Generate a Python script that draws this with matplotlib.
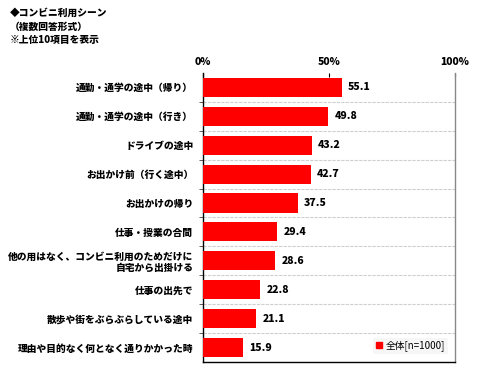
import matplotlib
matplotlib.use("Agg")
import matplotlib.pyplot as plt
from matplotlib.lines import Line2D

plt.rcParams['font.family'] = ['Noto Sans CJK JP', 'DejaVu Sans']

# data
labels = [
    "通勤・通学の途中（帰り）",
    "通勤・通学の途中（行き）",
    "ドライブの途中",
    "お出かけ前（行く途中）",
    "お出かけの帰り",
    "仕事・授業の合間",
    "他の用はなく、コンビニ利用のためだけに\n自宅から出掛ける",
    "仕事の出先で",
    "散歩や街をぶらぶらしている途中",
    "理由や目的なく何となく通りかかった時",
]
values = [55.1, 49.8, 43.2, 42.7, 37.5, 29.4, 28.6, 22.8, 21.1, 15.9]
xticks = [0, 50, 100]
xtick_labels = ["0%", "50%", "100%"]
series_name = "全体[n=1000]"
title = "◆コンビニ利用シーン\n（複数回答形式）\n※上位10項目を表示"

fig = plt.figure(figsize=(5, 3.74), dpi=100)
ax = fig.add_axes([0.406, 0.032, 0.504, 0.773])

n = len(values)
ypos = list(range(n))
ax.barh(ypos, values, height=0.66, color="#ff0000", zorder=3)

for y, v in zip(ypos, values):
    ax.text(v + 2.5, y, f"{v:.1f}", va="center", ha="left",
            fontsize=7.5, fontweight="heavy", zorder=4)

# dashed separators between categories
for k in range(1, n):
    ax.axhline(k - 0.5, color="#d0d0d0", lw=0.8, ls=(0, (3, 1)), zorder=1)

ax.set_xlim(0, 100)
ax.set_ylim(n - 0.5, -0.5)
ax.set_yticks(ypos)
ax.set_yticklabels(labels, fontsize=7, fontweight="heavy", linespacing=1.1)
ax.tick_params(axis="y", length=0, pad=7)
ax.set_yticks([k - 0.5 for k in range(1, n)], minor=True)
ax.tick_params(axis="y", which="minor", length=3, direction="out", color="#444444")

ax.xaxis.tick_top()
ax.set_xticks(xticks)
ax.set_xticklabels(xtick_labels, fontsize=7.5, fontweight="heavy")
ax.tick_params(axis="x", length=3, direction="in", pad=4)

for side in ["left", "bottom"]:
    ax.spines[side].set_color("black")
    ax.spines[side].set_linewidth(1.0)
ax.spines["top"].set_visible(False)
ax.spines["right"].set_color("#888888")
ax.spines["right"].set_linewidth(1.0)

handle = Line2D([], [], marker="s", color="#ff0000", ls="none", markersize=4)
leg = ax.legend([handle], [series_name], loc="lower right",
                bbox_to_anchor=(0.99, 0.01), frameon=True, fontsize=7,
                handletextpad=0.2, borderpad=0.3, handlelength=0.8)
leg.get_frame().set_facecolor("#f4f4f4")
leg.get_frame().set_edgecolor("none")

fig.text(0.02, 0.98, title, ha="left", va="top", fontsize=7,
         fontweight="heavy", linespacing=1.5)

fig.savefig("out.png", dpi=100)
